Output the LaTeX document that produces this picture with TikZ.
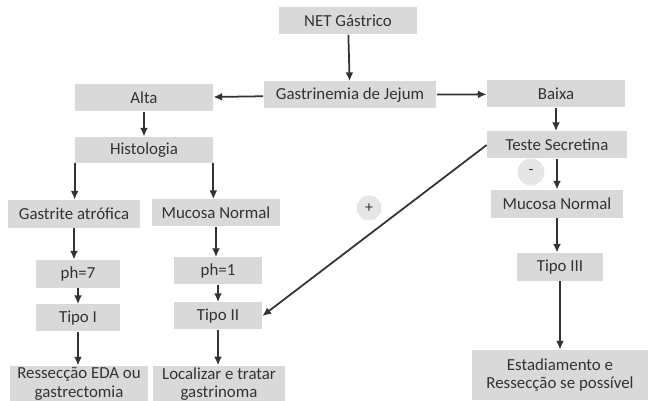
\documentclass[tikz,border=0pt]{standalone}
\usepackage{fontspec}
\setmainfont{Carlito}
\usepackage{xcolor}
\usetikzlibrary{arrows.meta,positioning,calc}
\definecolor{boxgray}{HTML}{D9D9D9}
\definecolor{circgray}{HTML}{E6E6E6}
\definecolor{inkgray}{HTML}{333333}

\begin{document}
\begin{tikzpicture}[
  x=0.02cm, y=-0.02cm,
  box/.style={fill=boxgray, text=inkgray, minimum height=0.54cm, inner sep=1pt, font=\fontsize{9.6}{10.5}\selectfont, align=center},
  sign/.style={circle, fill=circgray, text=inkgray, minimum size=0.54cm, inner sep=0pt, font=\fontsize{9}{10}\selectfont},
  arr/.style={draw=inkgray, line width=1pt, -{Latex[length=5pt,width=4.5pt]}}
]
\useasboundingbox (0,0) rectangle (650,401);
% top row
\node[box, minimum width=2.78cm] (net) at (348,21) {NET Gástrico};
\node[box, minimum width=3.46cm] (gas) at (350,95) {Gastrinemia de Jejum};
\node[box, minimum width=2.76cm] (alta) at (144,98) {Alta};
\node[box, minimum width=2.76cm] (baixa) at (556,94) {Baixa};
% left branch
\node[box, minimum width=2.76cm, minimum height=0.52cm] (hist) at (144,150) {Histologia};
\node[box, minimum width=2.64cm, minimum height=0.56cm] (gastr) at (74,214) {Gastrite atrófica};
\node[box, minimum width=2.56cm] (mucl) at (216,213) {Mucosa Normal};
\node[box, minimum width=1.70cm, minimum height=0.56cm] (ph7) at (78,274) {ph=7};
\node[box, minimum width=1.78cm] (ph1) at (218,271) {ph=1};
\node[box, minimum width=1.70cm] (tipo1) at (78,318) {Tipo I};
\node[box, minimum width=1.76cm] (tipo2) at (218,316) {Tipo II};
\node[box, minimum width=2.76cm, minimum height=0.72cm] (res) at (79,384) {Ressecção EDA ou\\gastrectomia};
\node[box, minimum width=2.64cm, minimum height=0.72cm] (loc) at (219,384) {Localizar e tratar\\gastrinoma};
% right branch
\node[box, minimum width=2.80cm] (teste) at (557,145) {Teste Secretina};
\node[box, minimum width=2.66cm, minimum height=0.56cm] (mucr) at (557,204) {Mucosa Normal};
\node[box, minimum width=1.74cm, minimum height=0.56cm] (tipo3) at (560,267) {Tipo III};
\node[box, minimum width=3.52cm, minimum height=1.0cm] (est) at (560,375) {Estadiamento e\\Ressecção se possível};
\node[sign] (neg) at (531,172) {-};
\node[sign, minimum size=0.5cm] (pos) at (369,208) {+};

\draw[arr] (net) -- (gas);
\draw[arr] (gas) -- (alta);
\draw[arr] (gas) -- (baixa);
\draw[arr] (alta) -- (hist);
\draw[arr] (hist.south west) -- (hist.south west |- gastr.north);
\draw[arr] (hist.south east) -- (hist.south east |- mucl.north);
\draw[arr] (gastr) -- (gastr |- ph7.north);
\draw[arr] (ph7) -- (tipo1);
\draw[arr] (tipo1) -- (tipo1 |- res.north);
\draw[arr] (mucl) -- (mucl |- ph1.north);
\draw[arr] (ph1) -- (tipo2);
\draw[arr] (tipo2) -- (tipo2 |- loc.north);
\draw[arr] (baixa) -- (baixa |- teste.north);
\draw[arr] (teste) -- (teste |- mucr.north);
\draw[arr] (teste.west) -- (tipo2.east);
\draw[arr] (mucr) -- (mucr |- tipo3.north);
\draw[arr] (tipo3) -- (tipo3 |- est.north);
\end{tikzpicture}
\end{document}
